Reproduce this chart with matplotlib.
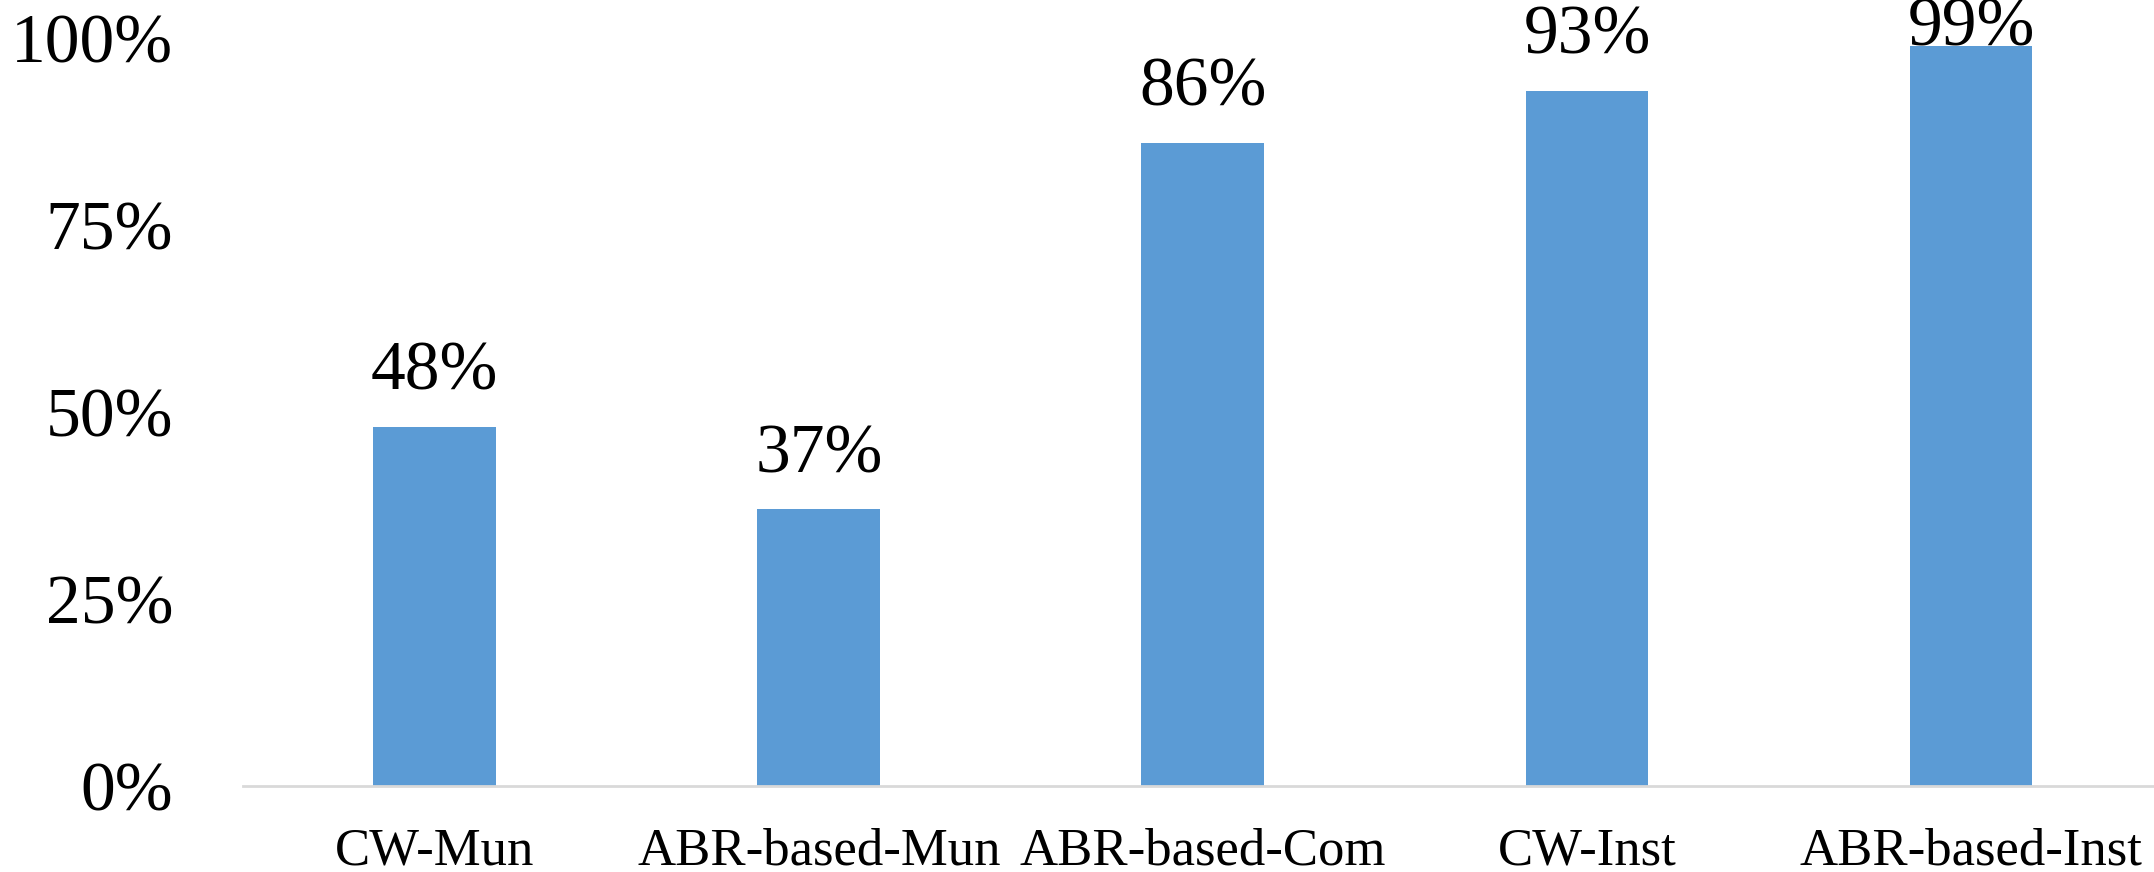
import matplotlib
matplotlib.use('Agg')
import matplotlib.pyplot as plt
from matplotlib.ticker import FuncFormatter

# success rate of each scheme, in percent
schemes = ['CW-Mun', 'ABR-based-Mun', 'ABR-based-Com', 'CW-Inst', 'ABR-based-Inst']
rates = [48, 37, 86, 93, 99]
y_ticks = [0, 25, 50, 75, 100]

plt.rcParams['font.family'] = ['Liberation Serif', 'DejaVu Serif']

fig = plt.figure(figsize=(21.54, 8.72), dpi=100)
ax = fig.add_axes([0.1127, 0.0986, 0.8915, 0.8572])

x = list(range(len(schemes)))
ax.bar(x, rates, width=0.32, color='#5B9BD5', zorder=2)

ax.set_xlim(-0.5, len(schemes) - 0.5)
ax.set_ylim(0, 100)
ax.set_yticks(y_ticks)
ax.yaxis.set_major_formatter(FuncFormatter(lambda v, p: f'{v:.0f}%'))
ax.set_xticks(x)
ax.set_xticklabels(schemes)
ax.tick_params(axis='y', length=0, pad=50, labelsize=50)
ax.tick_params(axis='x', length=0, pad=30, labelsize=38)

for side in ['top', 'right', 'left']:
    ax.spines[side].set_visible(False)
ax.spines['bottom'].set_color('#D9D9D9')
ax.spines['bottom'].set_linewidth(2)

# value labels above bars, kept inside the chart area
for xi, v in zip(x, rates):
    ax.text(xi, min(v + 3.0, 97.0), f'{v}%', ha='center', va='bottom',
            fontsize=50, clip_on=False, zorder=3)

fig.savefig('out.png', dpi=100)
